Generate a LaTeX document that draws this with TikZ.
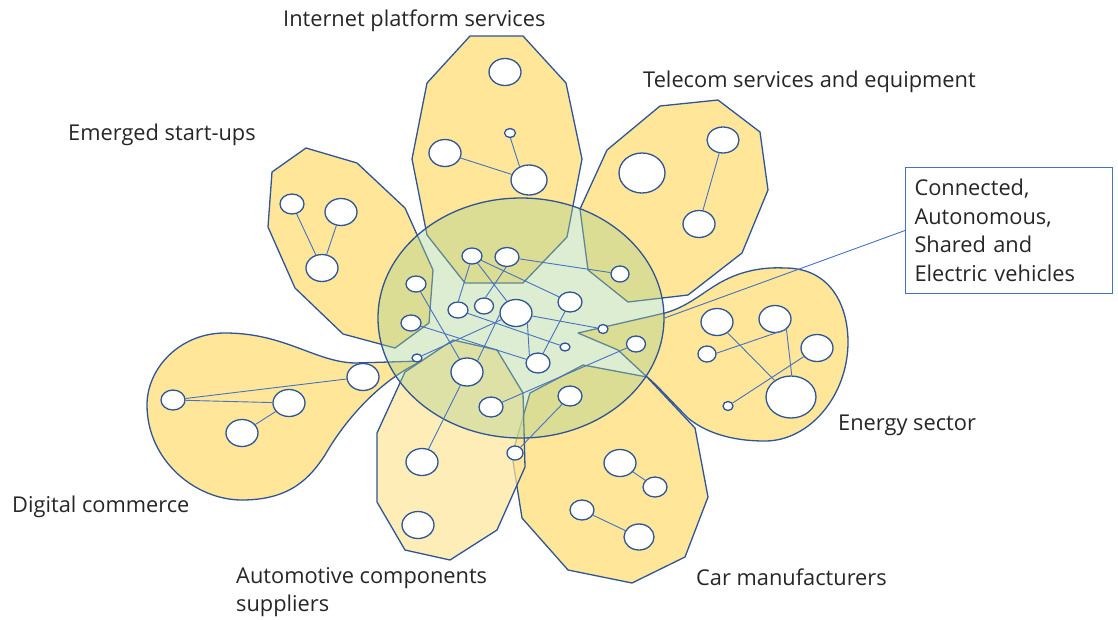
\documentclass[tikz,border=0pt]{standalone}
\usepackage{fontspec}
\setmainfont{Open Sans}
\usetikzlibrary{shapes.geometric}

\definecolor{petalfill}{HTML}{FFE699}
\definecolor{rim}{HTML}{2F5597}
\definecolor{linkblue}{HTML}{4472C4}
\definecolor{hubgreen}{HTML}{A9D18E}

\tikzset{
  petal/.style={fill=petalfill, draw=rim, line width=1.3pt, line join=round},
  cellnode/.style={ellipse, draw=rim, fill=white, line width=1.3pt, inner sep=0pt},
  link/.style={draw=linkblue, line width=0.9pt},
  lbl/.style={anchor=west, inner sep=0pt, font=\fontsize{21.8}{28.5}\selectfont, text=black!85},
}
\newcommand{\cellat}[4]{\node[cellnode, minimum width=#3pt, minimum height=#4pt] (#1) at #2 {};}

\begin{document}
\begin{tikzpicture}[x=1pt, y=-1pt]
  \useasboundingbox (0,0) rectangle (1118,619);

  %% petals
  % digital commerce
  \draw[petal] (422,361) -- (355,363) .. controls (315,362) and (285,333) .. (225,333)
    .. controls (180,333) and (147,368) .. (147,405)
    .. controls (147,460) and (195,500) .. (242,500)
    .. controls (290,500) and (310,478) .. (325,455)
    .. controls (345,420) and (380,380) .. (422,361) -- cycle;
  % start-ups
  \draw[petal] (306,148) -- (357,163) -- (405,208) -- (433,270) -- (429,323) -- (395,348)
    -- (343,334) -- (295,288) -- (268,227) -- (272,172) -- cycle;
  % internet
  \draw[petal] (470,36) -- (523,36) -- (566,83) -- (582,159) -- (567,237) -- (523,283)
    -- (465,283) -- (427,235) -- (412,159) -- (427,83) -- cycle;
  % telecom
  \draw[petal] (660,106) -- (718,100) -- (760,132) -- (768,190) -- (742,253) -- (688,295)
    -- (628,302) -- (588,270) -- (580,209) -- (607,150) -- cycle;
  % energy
  \draw[petal] (578,333) -- (665,313) .. controls (690,306) and (705,290) .. (725,280)
    .. controls (745,270) and (765,267) .. (785,268)
    .. controls (830,268) and (848,305) .. (848,342)
    .. controls (848,395) and (810,441) .. (765,441)
    .. controls (730,441) and (705,432) .. (688,418)
    .. controls (670,400) and (655,383) .. (647,377) -- (618,350) -- cycle;
  % car manufacturers
  \draw[petal] (530,393) -- (583,365) -- (647,377) -- (695,428) -- (708,497) -- (685,557)
    -- (632,583) -- (568,570) -- (522,518) -- (512,455) -- cycle;
  % components suppliers
  \draw[petal, fill opacity=0.7] (405,372) -- (453,340) -- (497,350) -- (523,393) -- (525,467)
    -- (497,530) -- (450,560) -- (405,550) -- (377,502) -- (377,433) -- cycle;

  %% hub
  \node[ellipse, draw=rim, fill=hubgreen, fill opacity=0.4, line width=1.3pt,
    minimum width=286pt, minimum height=240pt] (hub) at (521,318) {};

  %% cells
  % internet
  \cellat{i1}{(505,72)}{32}{27}
  \cellat{i2}{(510,133)}{11}{9}
  \cellat{i3}{(445,153)}{32}{27}
  \cellat{i4}{(529,180)}{36}{30}
  % start-ups
  \cellat{s1}{(292,204)}{24}{20}
  \cellat{s2}{(341,212)}{32}{27}
  \cellat{s3}{(322,268)}{32}{27}
  % telecom
  \cellat{t1}{(723,140)}{32}{26}
  \cellat{t2}{(642,173)}{46}{40}
  \cellat{t3}{(699,224)}{32}{27}
  % hub
  \cellat{c1}{(472,256)}{20}{16}
  \cellat{c2}{(507,257)}{24}{19}
  \cellat{c3}{(620,274)}{18}{16}
  \cellat{c4}{(416,284)}{20}{16}
  \cellat{c5}{(458,310)}{20}{16}
  \cellat{c6}{(484,306)}{19}{16}
  \cellat{c7}{(516,313)}{32}{27}
  \cellat{c8}{(570,302)}{24}{20}
  \cellat{c9}{(411,323)}{20}{16}
  \cellat{c10}{(603,329)}{10}{9}
  \cellat{c11}{(565,347)}{10}{8}
  \cellat{c12}{(636,344)}{19}{16}
  \cellat{c13}{(417,358)}{10}{8}
  \cellat{c14}{(538,363)}{24}{20}
  \cellat{c15}{(467,372)}{32}{28}
  \cellat{c16}{(491,407)}{24}{20}
  \cellat{c17}{(570,396)}{24}{20}
  % components
  \cellat{a1}{(422,462)}{32}{27}
  \cellat{a2}{(418,525)}{32}{27}
  \cellat{a3}{(515,453)}{16}{14}
  % car
  \cellat{k1}{(620,463)}{32}{27}
  \cellat{k2}{(655,487)}{24}{20}
  \cellat{k3}{(582,510)}{24}{20}
  \cellat{k4}{(639,537)}{30}{26}
  % energy
  \cellat{e1}{(717,322)}{32}{27}
  \cellat{e2}{(775,319)}{32}{27}
  \cellat{e3}{(817,348)}{32}{27}
  \cellat{e4}{(707,354)}{18}{16}
  \cellat{e5}{(791,397)}{50}{42}
  \cellat{e6}{(728,406)}{10}{9}
  % digital
  \cellat{d1}{(173,400)}{24}{20}
  \cellat{d2}{(289,403)}{32}{27}
  \cellat{d3}{(242,433)}{32}{27}
  \cellat{d4}{(363,377)}{32}{27}

  %% links
  \draw[link] (i2.275) -- (i4.125);
  \draw[link] (i3) -- (i4);
  \draw[link] (s1) -- (s3);
  \draw[link] (s2) -- (s3);
  \draw[link] (t1) -- (t3);
  \draw[link] (c1.255) -- (c5.88);
  \draw[link] (c1) -- (c7);
  \draw[link] (c1) -- (c8);
  \draw[link] (c2) -- (c3);
  \draw[link] (c2.265) -- (c6.80);
  \draw[link] (c4) -- (c15);
  \draw[link] (c9) -- (c14);
  \draw[link] (c5) -- (c11);
  \draw[link] (c7) -- (c10);
  \draw[link] (c7.-42) -- (c14.138);
  \draw[link] (c8) -- (c14);
  \draw[link] (c13) -- (c7);
  \draw[link] (c15.47) -- (c7.186);
  \draw[link] (c16) -- (c12);
  \draw[link] (c17) -- (a3);
  \draw[link] (c15) -- (a1);
  \draw[link] (k1) -- (k2);
  \draw[link] (k3) -- (k4);
  \draw[link] (e1) -- (e5);
  \draw[link] (e4.5) -- (e2.-42);
  \draw[link] (e2.-42) -- (e5.88);
  \draw[link] (e6) -- (e3);
  \draw[link] (d1) -- (d4);
  \draw[link] (d1) -- (d2);
  \draw[link] (d3) -- (d2);

  %% callout
  \node[draw=linkblue, line width=1pt, anchor=north west, minimum width=207pt,
    minimum height=126pt, text width=189pt, inner xsep=9pt, inner ysep=6pt, align=left,
    font=\fontsize{21.8}{28.5}\selectfont, text=black!85] (cave) at (905,167)
    {Connected,\\Autonomous,\\Shared and\\Electric vehicles};
  \draw[link] (cave.west) -- (hub.east);

  %% labels
  \node[lbl] (linternet) at (283,21) {Internet platform services};
  \node[lbl] (ltelecom) at (643,82) {Telecom services and equipment};
  \node[lbl] (lstart) at (68,135) {Emerged start-ups};
  \node[lbl] (lenergy) at (838,425) {Energy sector};
  \node[lbl] (ldigital) at (12,507) {Digital commerce};
  \node[lbl, align=left] (lcomp) at (236,592) {Automotive components\\suppliers};
  \node[lbl] (lcar) at (696,577) {Car manufacturers};
\end{tikzpicture}
\end{document}
